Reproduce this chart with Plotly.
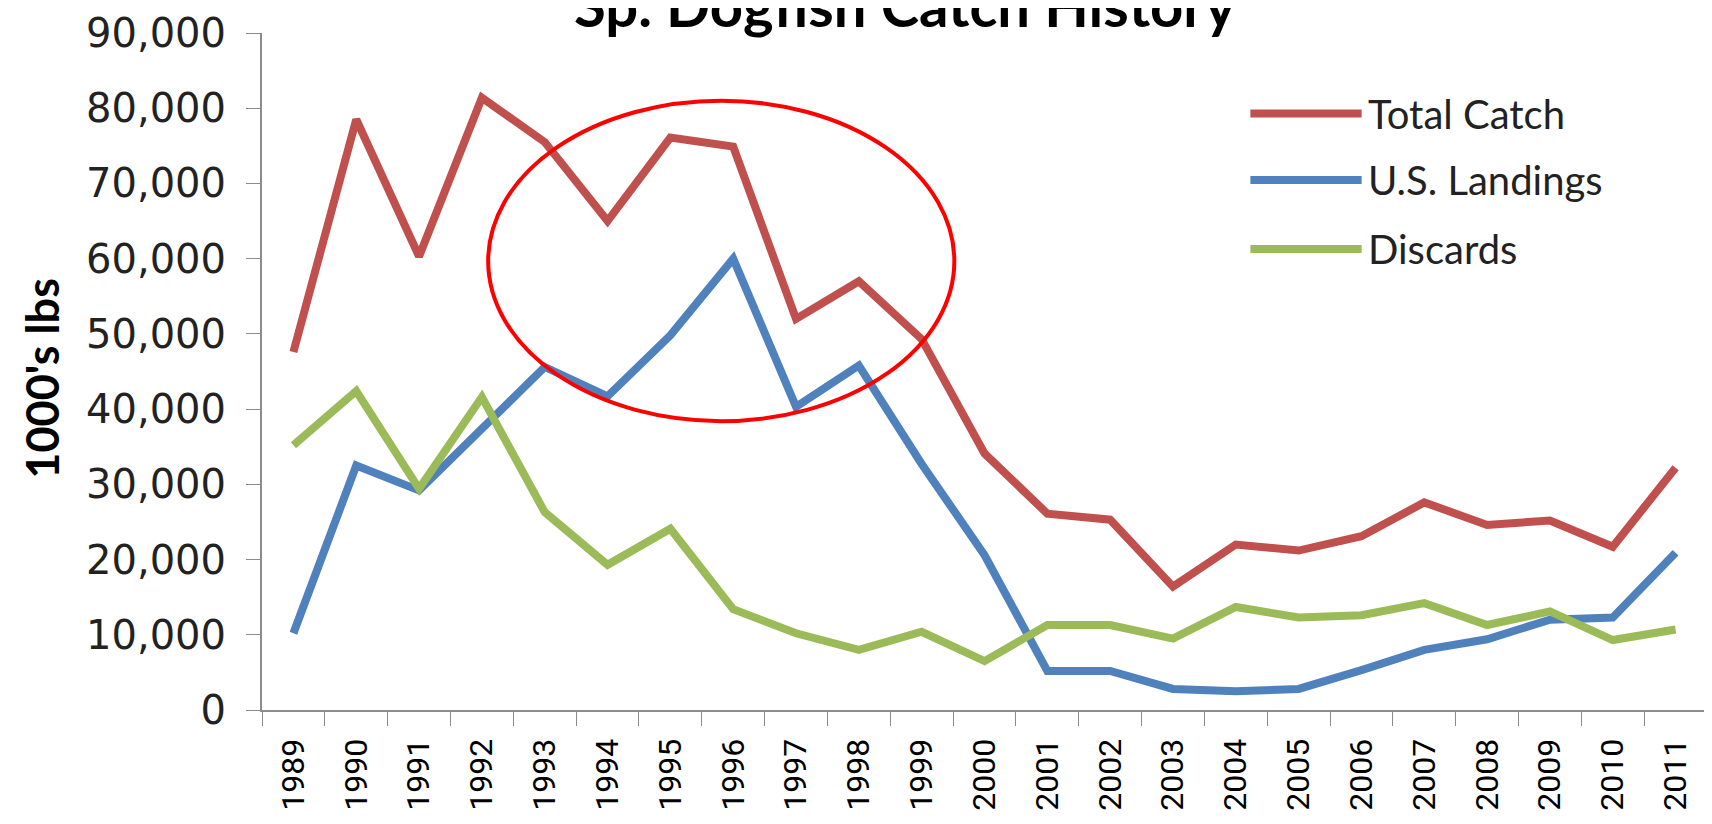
import plotly.graph_objects as go

years = [str(y) for y in range(1989, 2012)]

total_catch = [47600, 78500, 60300, 81400, 75500, 65000, 76100, 74900, 52000, 57000,
               49300, 34100, 26100, 25300, 16400, 22000, 21200, 23100, 27600, 24600,
               25200, 21700, 32200]
us_landings = [10200, 32500, 29200, 37300, 45600, 41700, 49800, 60000, 40300, 45800,
               32700, 20600, 5200, 5200, 2800, 2500, 2800, 5300, 8000, 9400,
               12000, 12300, 20900]
discards = [35200, 42400, 29400, 41600, 26300, 19300, 24100, 13400, 10200, 8000,
            10400, 6500, 11300, 11300, 9500, 13700, 12300, 12600, 14200, 11300,
            13100, 9300, 10700]

series_names = ["Total Catch", "U.S. Landings", "Discards"]
series_colors = ["#C0504D", "#4F81BD", "#9BBB59"]

fig = go.Figure()
for name, vals, col in zip(series_names, [total_catch, us_landings, discards], series_colors):
    fig.add_trace(go.Scatter(
        x=years, y=vals, mode="lines", name=name,
        line=dict(color=col, width=8),
        showlegend=False,
    ))

axis_col = "#8C8C8C"

# red ellipse highlighting the mid-90s
fig.add_shape(type="circle", xref="x", yref="y",
              x0=3.1, x1=10.52, y0=38400, y1=81000,
              line=dict(color="#FF0000", width=4))

# hand-made legend with long line samples
leg_y = [0.881, 0.783, 0.681]
for name, col, yy in zip(series_names, series_colors, leg_y):
    fig.add_shape(type="line", xref="paper", yref="paper",
                  x0=0.684, x1=0.761, y0=yy, y1=yy,
                  line=dict(color=col, width=8))
    fig.add_annotation(text=name, xref="paper", yref="paper",
                       x=0.764, y=yy, xanchor="left", yanchor="middle",
                       showarrow=False,
                       font=dict(family="Lato, Arial", size=40, color="#222222"))

fig.add_annotation(text="<b>Sp. Dogfish Catch History</b>", xref="paper", yref="paper",
                   x=0.445, y=0.988, xanchor="center", yanchor="bottom",
                   showarrow=False,
                   font=dict(family="Lato, Arial", size=58, color="black"))

fig.add_annotation(text="<b>1000's lbs</b>", xref="paper", yref="paper",
                   x=-0.152, y=0.49, xanchor="center", yanchor="middle",
                   textangle=-90, showarrow=False, borderpad=0,
                   font=dict(family="Lato, Arial", size=45, color="black"))

fig.update_layout(
    width=1712, height=824,
    margin=dict(l=254, r=13, t=25, b=122),
    plot_bgcolor="white", paper_bgcolor="white",
    xaxis=dict(
        type="category", range=[-0.5, 22.5], automargin=False,
        showgrid=False, showline=True, linecolor=axis_col, linewidth=2,
        ticks="outside", tickson="boundaries", ticklen=14, tickcolor=axis_col, tickwidth=1,
        tickangle=-90, ticklabelstandoff=14,
        tickfont=dict(family="Roboto", size=32, color="black"),
    ),
    yaxis=dict(
        range=[0, 90000], dtick=10000, tickformat=",", automargin=False,
        showgrid=False, zeroline=False, showline=True, linecolor=axis_col, linewidth=2,
        ticks="outside", ticklen=14, tickcolor=axis_col, tickwidth=1,
        ticklabelstandoff=12,
        tickfont=dict(family="DejaVu Sans", size=40, color="#222222"),
    ),
)

fig.write_html("out.html")
